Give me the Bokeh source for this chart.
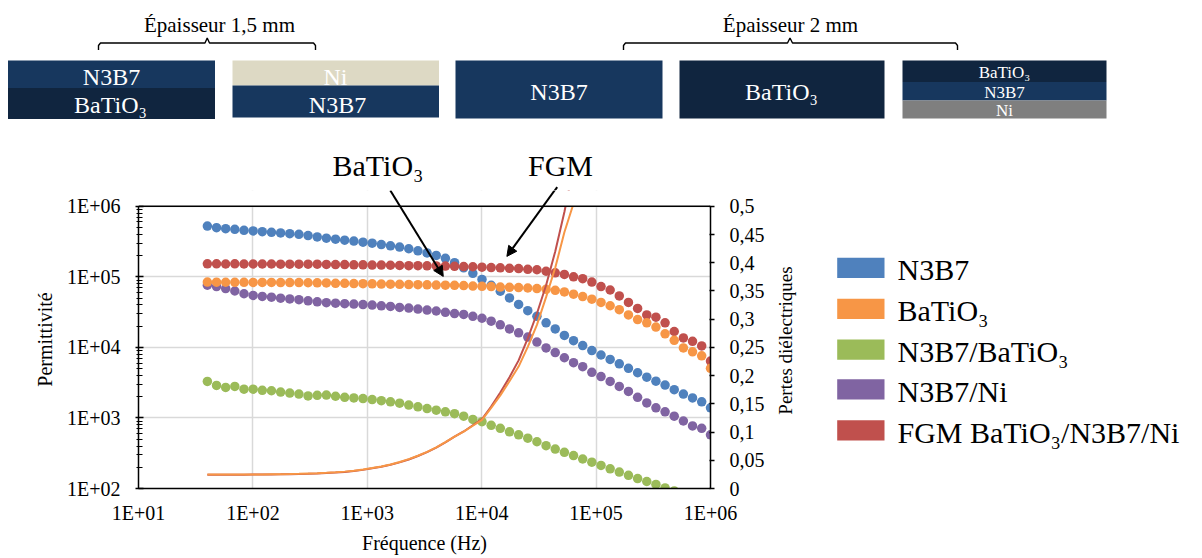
import math
from bokeh.plotting import figure
from bokeh.models import (Range1d, LinearAxis, LinearScale, FixedTicker, CustomJSTickFormatter,
                          Arrow, NormalHead, Span, BoxAnnotation)
from bokeh.layouts import column, row
from bokeh.core.properties import value
from bokeh.embed import file_html
from bokeh.resources import INLINE

FONT = "Liberation Serif"

# ---------------- data ----------------
freq = [40, 48.1, 57.8, 69.5, 83.6, 100.5, 120.8, 145.3, 174.7, 210, 252.5, 303.6, 365, 438.9,
        527.7, 634.4, 762.8, 917.1, 1103, 1326, 1594, 1916, 2304, 2770, 3331, 4005, 4815, 5789,
        6960, 8368, 10060, 12100, 14540, 17490, 21020, 25280, 30390, 36540, 43930, 52820, 63500,
        76350, 91790, 110400, 132700, 159500, 191800, 230600, 277300, 333400, 400800, 481900,
        579400, 696600, 837500, 1000000]

perm_n3b7 = [5.25e5, 4.97e5, 4.81e5, 4.72e5, 4.57e5, 4.47e5, 4.37e5, 4.28e5, 4.19e5, 4.09e5,
             4.01e5, 3.84e5, 3.68e5, 3.53e5, 3.42e5, 3.31e5, 3.21e5, 3.10e5, 3.00e5, 2.87e5,
             2.75e5, 2.64e5, 2.50e5, 2.34e5, 2.18e5, 2.01e5, 1.83e5, 1.59e5, 1.34e5, 1.12e5,
             9.20e4, 7.58e4, 6.25e4, 5.03e4, 4.07e4, 3.31e4, 2.76e4, 2.23e4, 1.83e4, 1.48e4,
             1.245e4, 1.06e4, 9.02e3, 7.80e3, 6.75e3, 5.84e3, 5.05e3, 4.37e3, 3.78e3, 3.32e3,
             2.92e3, 2.52e3, 2.18e3, 1.92e3, 1.69e3, 1.39e3]

perm_bati = [8.43e4, 8.40e4, 8.38e4, 8.35e4, 8.35e4, 8.33e4, 8.33e4, 8.32e4, 8.30e4, 8.30e4,
             8.28e4, 8.25e4, 8.22e4, 8.20e4, 8.10e4, 8.08e4, 8.03e4, 8.00e4, 7.96e4, 7.90e4,
             7.88e4, 7.83e4, 7.78e4, 7.75e4, 7.70e4, 7.65e4, 7.63e4, 7.58e4, 7.51e4, 7.41e4,
             7.34e4, 7.27e4, 7.17e4, 7.10e4, 7.04e4, 6.95e4, 6.81e4, 6.66e4, 6.45e4, 6.11e4,
             5.67e4, 5.26e4, 4.83e4, 4.34e4, 3.89e4, 3.42e4, 2.88e4, 2.48e4, 2.23e4, 1.94e4,
             1.56e4, 1.26e4, 9.84e3, 8.65e3, 7.60e3, 5.05e3]

perm_n3b7_bati = [3290, 2890, 2710, 2800, 2560, 2560, 2460, 2430, 2330, 2250, 2180, 2050, 2090,
                  2110, 2030, 1960, 1920, 1880, 1820, 1760, 1690, 1620, 1520, 1440, 1360, 1290,
                  1220, 1150, 1060, 953, 885, 785, 713, 635, 576, 516, 460, 404, 362, 326, 293,
                  262, 236, 212, 190, 171, 154, 138.5, 125.7, 114.1, 102, 92.5]

perm_n3b7_ni = [7.63e4, 7.27e4, 6.81e4, 6.30e4, 5.76e4, 5.45e4, 5.28e4, 5.15e4, 4.98e4, 4.86e4,
                4.75e4, 4.57e4, 4.42e4, 4.31e4, 4.24e4, 4.17e4, 4.11e4, 4.04e4, 3.98e4, 3.89e4,
                3.81e4, 3.69e4, 3.61e4, 3.49e4, 3.38e4, 3.28e4, 3.14e4, 3.02e4, 2.93e4, 2.76e4,
                2.59e4, 2.35e4, 2.09e4, 1.83e4, 1.61e4, 1.40e4, 1.19e4, 9.84e3, 8.46e3, 7.13e3,
                6.07e3, 5.33e3, 4.44e3, 3.86e3, 3.29e3, 2.80e3, 2.38e3, 1.96e3, 1.63e3, 1.39e3,
                1.22e3, 1.06e3, 905, 770, 713, 576]

perm_fgm = [1.53e5, 1.53e5, 1.52e5, 1.53e5, 1.52e5, 1.52e5, 1.52e5, 1.52e5, 1.51e5, 1.51e5,
            1.51e5, 1.51e5, 1.51e5, 1.50e5, 1.49e5, 1.49e5, 1.48e5, 1.48e5, 1.47e5, 1.47e5,
            1.46e5, 1.45e5, 1.44e5, 1.44e5, 1.435e5, 1.43e5, 1.42e5, 1.41e5, 1.40e5, 1.39e5,
            1.37e5, 1.355e5, 1.34e5, 1.32e5, 1.31e5, 1.28e5, 1.26e5, 1.20e5, 1.14e5, 1.08e5,
            1.00e5, 9.41e4, 8.43e4, 7.27e4, 6.51e4, 5.37e4, 4.34e4, 3.57e4, 2.88e4, 2.68e4,
            2.23e4, 1.68e4, 1.36e4, 1.22e4, 1.05e4, 6.39e3]

loss_bati = [0.0249, 0.0247, 0.0247, 0.0247, 0.0247, 0.0249, 0.0250, 0.0252, 0.0254, 0.0257,
             0.0261, 0.0266, 0.0271, 0.0278, 0.0287, 0.0299, 0.0313, 0.0336, 0.0363, 0.0391,
             0.0426, 0.0469, 0.0520, 0.0581, 0.0648, 0.0727, 0.0820, 0.0919, 0.1007, 0.1112,
             0.1217, 0.1427, 0.165, 0.190, 0.216, 0.251, 0.290, 0.339, 0.391, 0.454, 0.505]

loss_fgm = [0.0245, 0.0244, 0.0244, 0.0244, 0.0244, 0.0246, 0.0247, 0.0249, 0.0251, 0.0254,
            0.0258, 0.0262, 0.0267, 0.0274, 0.0283, 0.0294, 0.0308, 0.0330, 0.0357, 0.0385,
            0.0420, 0.0463, 0.0514, 0.0576, 0.0644, 0.0724, 0.0818, 0.0919, 0.101, 0.112,
            0.123, 0.145, 0.170, 0.197, 0.227, 0.266, 0.310, 0.36, 0.42, 0.49, 0.57]

series_names = ["N3B7", "BaTiO\u2083", "N3B7/BaTiO\u2083", "N3B7/Ni", "FGM BaTiO\u2083/N3B7/Ni"]
series_colors = ["#4F81BD", "#F79646", "#9BBB59", "#8064A2", "#C0504D"]

x_ticks = [10, 100, 1000, 10000, 100000, 1000000]
x_tick_labels = ["1E+01", "1E+02", "1E+03", "1E+04", "1E+05", "1E+06"]
y_ticks = [100, 1000, 10000, 100000, 1000000]
y_tick_labels = ["1E+02", "1E+03", "1E+04", "1E+05", "1E+06"]
loss_ticks = [0, 0.05, 0.1, 0.15, 0.2, 0.25, 0.3, 0.35, 0.4, 0.45, 0.5]
loss_tick_labels = ["0", "0,05", "0,1", "0,15", "0,2", "0,25", "0,3", "0,35", "0,4", "0,45", "0,5"]
x_title = "Fréquence (Hz)"
y_title = "Permittivité"
y2_title = "Pertes diélectriques"

# schematic of the samples (top strip)
block_labels = ["N3B7", "BaTiO\u2083", "Ni", "N3B7", "N3B7", "BaTiO\u2083", "BaTiO\u2083", "N3B7", "Ni"]
block_colors = ["#17375E", "#10253F", "#DDD9C4", "#17375E", "#17375E", "#10253F", "#10253F",
                "#17375E", "#7F7F7F"]
group_titles = ["\u00c9paisseur 1,5 mm", "\u00c9paisseur 2 mm"]
annot_texts = ["BaTiO\u2083", "FGM"]

# ---------------- layout constants (pixel positions) ----------------
W = 1200
TOP_H = 190
MAIN_H = 366
MAIN_W = 770
SHIFT = 0.28   # baseline correction (fraction of font size) for text glyphs

# chart frame: y = 1E+06 sits at 206 px, 1E+02 at 492 px; the frame is extended up to 190 px
Y_MIN, Y_MAX = 100, 1e6
LOSS_MAX = 0.5
PX_TOP, PX_AX_TOP, PX_BOTTOM = TOP_H, 206, 492
dec_px = (PX_BOTTOM - PX_AX_TOP) / math.log10(Y_MAX / Y_MIN)
y_end = Y_MAX * 10 ** ((PX_AX_TOP - PX_TOP) / dec_px)
loss_end = LOSS_MAX * (PX_BOTTOM - PX_TOP) / (PX_BOTTOM - PX_AX_TOP)

def up(ys, size):
    return [y - SHIFT * size for y in ys]

blk_left = [7.5, 7.5, 232, 232, 455, 679, 902, 902, 902]
blk_right = [214.5, 214.5, 438.5, 438.5, 662, 884, 1106, 1106, 1106]
blk_top = [60, 87.5, 60, 85, 60, 60, 60, 81.5, 100]
blk_bottom = [87.5, 118.5, 85, 117, 118, 118, 81.5, 100, 118]
big_idx = [0, 1, 2, 3, 4, 5]
small_idx = [6, 7, 8]
txt_x = [111, 110, 335, 337, 558.5, 781, 1004, 1004, 1004]
txt_y = [83.3, 111.7, 83.3, 111.7, 98.3, 98.3, 76.5, 96.5, 115]
title_x = [219, 790]
title_y = [30, 30]
br_xs = [[98, 98, 100, 204.5, 206.7, 209, 313, 315, 315],
         [623, 623, 625, 787, 789.5, 792, 955, 957, 957]]
br_ys = [[49.5, 45, 42.5, 42.5, 37.5, 42.5, 42.5, 45, 49.5]] * 2
annot_x = [377.5, 560]
annot_y = [173.3, 173.3]
arr_px = [(390, 190, 443, 277), (556.7, 186.7, 506.7, 256.7)]
arrow_bati = (1589, 1.676e6, 4613, 1.014e5)
arrow_fgm = (45400, 1.86e6, 16600, 1.95e5)

leg_sw_left, leg_sw_right = 836.7, 884
leg_bottoms = [277.5, 318.5, 359.3, 399.0, 440.0]
leg_sw_h = 20.3
leg_text_x = 897
leg_font = 30
y2_title_x, y2_title_y = 790, 340

def frame_only(fig):
    try:
        fig.frame_align = False
    except Exception:
        pass
    fig.grid.visible = False
    fig.outline_line_color = None
    fig.background_fill_color = "white"
    fig.border_fill_color = "white"

# ---------------- top strip ----------------
top = figure(width=W, height=TOP_H, x_range=Range1d(0, W), y_range=Range1d(TOP_H, 0),
             min_border=0, x_axis_location=None, y_axis_location=None,
             toolbar_location=None, output_backend="svg")
frame_only(top)
top.quad(left=blk_left, right=blk_right, top=blk_top, bottom=blk_bottom,
         fill_color=block_colors, line_color=None)
top.text(x=[txt_x[i] for i in big_idx], y=up([txt_y[i] for i in big_idx], 24),
         text=[block_labels[i] for i in big_idx], text_font=value(FONT), text_font_size="24px",
         text_color="white", text_align="center", text_baseline="alphabetic")
top.text(x=[txt_x[i] for i in small_idx], y=up([txt_y[i] for i in small_idx], 17),
         text=[block_labels[i] for i in small_idx], text_font=value(FONT), text_font_size="17px",
         text_color="white", text_align="center", text_baseline="alphabetic")
top.text(x=title_x, y=up(title_y, 21), text=group_titles, text_font=value(FONT),
         text_font_size="21px", text_color="black", text_align="center",
         text_baseline="alphabetic")
top.multi_line(xs=br_xs, ys=br_ys, line_color="black", line_width=1.4)
top.text(x=annot_x, y=up(annot_y, 30), text=annot_texts, text_font=value(FONT),
         text_font_size="30px", text_color="black", text_align="center",
         text_baseline="alphabetic")
top.segment(x0=[a[0] for a in arr_px], y0=[a[1] for a in arr_px],
            x1=[a[2] for a in arr_px], y1=[a[3] for a in arr_px],
            line_color="black", line_width=2)

# ---------------- main chart ----------------
p = figure(width=MAIN_W, height=MAIN_H, x_axis_type="log", y_axis_type="log",
           x_range=Range1d(10, 1e6), y_range=Range1d(Y_MIN, y_end),
           min_border_left=138, min_border_right=MAIN_W - 710, min_border_top=0,
           min_border_bottom=MAIN_H - (PX_BOTTOM - PX_TOP),
           toolbar_location=None, output_backend="svg")
try:
    p.frame_align = False
except Exception:
    pass
p.extra_y_ranges = {"loss": Range1d(0, loss_end)}
p.extra_y_scales = {"loss": LinearScale()}
p.outline_line_color = None
p.background_fill_color = "white"
p.border_fill_color = "white"

fmt_code = """
for (let i = 0; i < t.length; i++) {
  if (Math.abs(t[i] - tick) <= 1e-9 + 1e-6 * Math.abs(t[i])) { return l[i]; }
}
return "";
"""

xa = p.xaxis[0]
xa.ticker = FixedTicker(ticks=x_ticks)
xa.formatter = CustomJSTickFormatter(args=dict(t=x_ticks, l=x_tick_labels), code=fmt_code)
ya = p.yaxis[0]
ya.ticker = FixedTicker(ticks=y_ticks,
                        minor_ticks=[m * d for d in y_ticks[:-1] for m in range(2, 10)])
ya.formatter = CustomJSTickFormatter(args=dict(t=y_ticks, l=y_tick_labels), code=fmt_code)
ya.bounds = (Y_MIN, Y_MAX)

yr = LinearAxis(y_range_name="loss", ticker=FixedTicker(ticks=loss_ticks),
                formatter=CustomJSTickFormatter(args=dict(t=loss_ticks, l=loss_tick_labels),
                                                code=fmt_code),
                bounds=(0, LOSS_MAX))
p.add_layout(yr, "right")

for ax in (xa, ya, yr):
    ax.axis_line_color = "black"
    ax.axis_line_width = 1.5
    ax.major_tick_line_color = "black"
    ax.major_tick_line_width = 1.3
    ax.minor_tick_line_color = "black"
    ax.minor_tick_line_width = 1
    ax.major_label_text_font = FONT
    ax.major_label_text_font_size = "20px"
    ax.major_label_text_color = "black"
    ax.axis_label_text_font = FONT
    ax.axis_label_text_font_style = "normal"
    ax.axis_label_text_color = "black"
    ax.axis_label_text_font_size = "20px"

xa.axis_label = x_title
xa.major_tick_out = 0
xa.major_tick_in = 0
xa.minor_tick_line_color = None
xa.major_label_standoff = 13
xa.axis_label_standoff = 5

ya.axis_label = y_title
ya.major_tick_out = 3
ya.major_tick_in = 5
ya.minor_tick_out = 2
ya.minor_tick_in = 4
ya.major_label_standoff = 15
ya.axis_label_standoff = 8

yr.major_tick_out = 4
yr.major_tick_in = 1
yr.minor_tick_line_color = None
yr.major_label_standoff = 15
yr.axis_label_standoff = 0

p.xgrid.ticker = FixedTicker(ticks=x_ticks)
p.ygrid.ticker = FixedTicker(ticks=y_ticks)
p.grid.grid_line_color = "#D9D9D9"
p.grid.grid_line_width = 1.5

perm = {"N3B7": perm_n3b7, "BaTiO\u2083": perm_bati, "N3B7/BaTiO\u2083": perm_n3b7_bati,
        "N3B7/Ni": perm_n3b7_ni, "FGM BaTiO\u2083/N3B7/Ni": perm_fgm}
color_of = dict(zip(series_names, series_colors))
for name in ["N3B7/BaTiO\u2083", "N3B7/Ni", "N3B7", "FGM BaTiO\u2083/N3B7/Ni", "BaTiO\u2083"]:
    vals = perm[name]
    p.scatter(x=freq[:len(vals)], y=vals, size=9.5, fill_color=color_of[name],
              line_color=None, marker="circle")

p.line(x=freq[:len(loss_fgm)], y=loss_fgm, y_range_name="loss",
       line_color="#C0504D", line_width=2)
p.line(x=freq[:len(loss_bati)], y=loss_bati, y_range_name="loss",
       line_color="#F79646", line_width=2)

# white mask above the plot area top (hides grid / lines beyond the axes' extent)
p.add_layout(BoxAnnotation(bottom=Y_MAX, fill_color="white", fill_alpha=1.0,
                           line_color=None, level="glyph"))
# top border of the plot area
p.add_layout(Span(location=Y_MAX, dimension="width", line_color="black", line_width=1.5))

for (x0, y0, x1, y1) in (arrow_bati, arrow_fgm):
    p.add_layout(Arrow(end=NormalHead(size=10, fill_color="black", line_color="black"),
                       x_start=x0, y_start=y0, x_end=x1, y_end=y1,
                       line_color="black", line_width=2))

# ---------------- legend panel (and secondary axis title) ----------------
leg = figure(width=W - MAIN_W, height=MAIN_H, x_range=Range1d(MAIN_W, W),
             y_range=Range1d(TOP_H + MAIN_H, TOP_H), min_border=0,
             x_axis_location=None, y_axis_location=None,
             toolbar_location=None, output_backend="svg")
frame_only(leg)
leg.quad(left=[leg_sw_left] * len(series_names), right=[leg_sw_right] * len(series_names),
         top=[b - leg_sw_h for b in leg_bottoms], bottom=leg_bottoms,
         fill_color=series_colors, line_color=None)
leg.text(x=[leg_text_x] * len(series_names), y=up(leg_bottoms, leg_font), text=series_names,
         text_font=value(FONT), text_font_size=f"{leg_font}px", text_color="black",
         text_align="left", text_baseline="alphabetic")
leg.text(x=[y2_title_x - SHIFT * 19], y=[y2_title_y], text=[y2_title], angle=math.pi / 2,
         text_font=value(FONT), text_font_size="19px", text_color="black",
         text_align="center", text_baseline="alphabetic")

layout = column(top, row(p, leg))
open("out.html", "w").write(file_html(layout, INLINE))
